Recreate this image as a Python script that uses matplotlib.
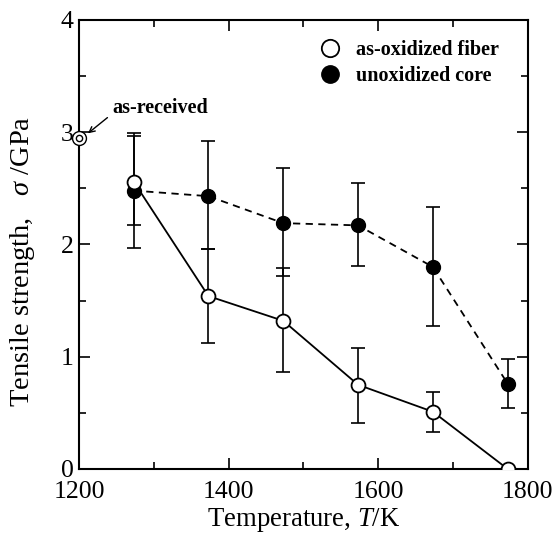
import matplotlib
matplotlib.use("Agg")
import matplotlib.pyplot as plt
from matplotlib.ticker import MultipleLocator

plt.rcParams['font.family'] = ['Liberation Serif', 'DejaVu Serif']
plt.rcParams['mathtext.fontset'] = 'custom'
plt.rcParams['mathtext.it'] = 'Liberation Serif:italic'
plt.rcParams['mathtext.rm'] = 'Liberation Serif'

temperature = [1273, 1373, 1473, 1573, 1673, 1773]
oxidized = [2.56, 1.54, 1.32, 0.75, 0.51, 0.0]
oxidized_up = [2.97, 1.96, 1.79, 1.08, 0.69, 0.0]
oxidized_lo = [2.17, 1.12, 0.86, 0.41, 0.33, 0.0]
core = [2.48, 2.43, 2.19, 2.17, 1.80, 0.76]
core_up = [2.99, 2.92, 2.68, 2.55, 2.33, 0.98]
core_lo = [1.97, 1.96, 1.72, 1.81, 1.27, 0.54]
received_T = 1200
received_s = 2.95

fig = plt.figure(figsize=(5.58, 5.39), dpi=100)
ax = fig.add_axes([0.1416, 0.1299, 0.8044, 0.8331])

ox_err = [[v - l for v, l in zip(oxidized, oxidized_lo)], [u - v for v, u in zip(oxidized, oxidized_up)]]
co_err = [[v - l for v, l in zip(core, core_lo)], [u - v for v, u in zip(core, core_up)]]

ax.errorbar(temperature, core, yerr=co_err, fmt='none', ecolor='black', elinewidth=1.2, capsize=5, capthick=1.2, zorder=2)
ax.errorbar(temperature, oxidized, yerr=ox_err, fmt='none', ecolor='black', elinewidth=1.2, capsize=5, capthick=1.2, zorder=2)
ax.plot(temperature, core, '--', color='black', lw=1.3, marker='o', ms=10, mfc='black', mec='black', zorder=3,
        label='unoxidized core', dashes=(4, 3))
ax.plot(temperature, oxidized, '-', color='black', lw=1.3, marker='o', ms=10, mfc='white', mec='black', mew=1.3,
        zorder=4, label='as-oxidized fiber')

# as-received marker (double circle)
ax.plot([received_T], [received_s], 'o', ms=10, mfc='white', mec='black', mew=1.0, clip_on=False, zorder=5)
ax.plot([received_T], [received_s], 'o', ms=4.5, mfc='white', mec='black', mew=1.0, clip_on=False, zorder=6)
ax.annotate('', xy=(1212, 2.99), xytext=(1238, 3.13),
            arrowprops=dict(arrowstyle='->', color='black', lw=1.0, shrinkA=0, shrinkB=0),
            annotation_clip=False)
ax.text(1245, 3.22, 'as-received', fontsize=14.5, fontweight='bold', ha='left', va='center')

ax.set_xlim(1200, 1800)
ax.set_ylim(0, 4)
ax.xaxis.set_major_locator(MultipleLocator(200))
ax.xaxis.set_minor_locator(MultipleLocator(100))
ax.yaxis.set_major_locator(MultipleLocator(1))
ax.yaxis.set_minor_locator(MultipleLocator(0.5))
ax.tick_params(which='both', direction='in', top=True, right=True, labelsize=18.5, width=1.2)
ax.tick_params(which='major', length=8)
ax.tick_params(which='minor', length=5)
ax.tick_params(axis='x', which='major', pad=9)
ax.tick_params(axis='y', which='major', pad=4)
for s in ax.spines.values():
    s.set_linewidth(1.5)

ax.set_xlabel('Temperature, $T$/K', fontsize=19.3, labelpad=2)
ax.set_ylabel('Tensile strength,   $\\sigma$ /GPa', fontsize=20.5)
ax.yaxis.set_label_coords(-0.094, 0.462)

h, l = ax.get_legend_handles_labels()
leg = ax.legend(h[::-1], l[::-1], loc='upper right', bbox_to_anchor=(0.976, 0.995), frameon=False,
                prop={'weight': 'bold', 'size': 14.5}, handlelength=1.0, handletextpad=0.8,
                labelspacing=0.3, numpoints=1, markerscale=1.25)
for line in leg.get_lines():
    line.set_linestyle('none')

fig.savefig('out.png', dpi=100)
